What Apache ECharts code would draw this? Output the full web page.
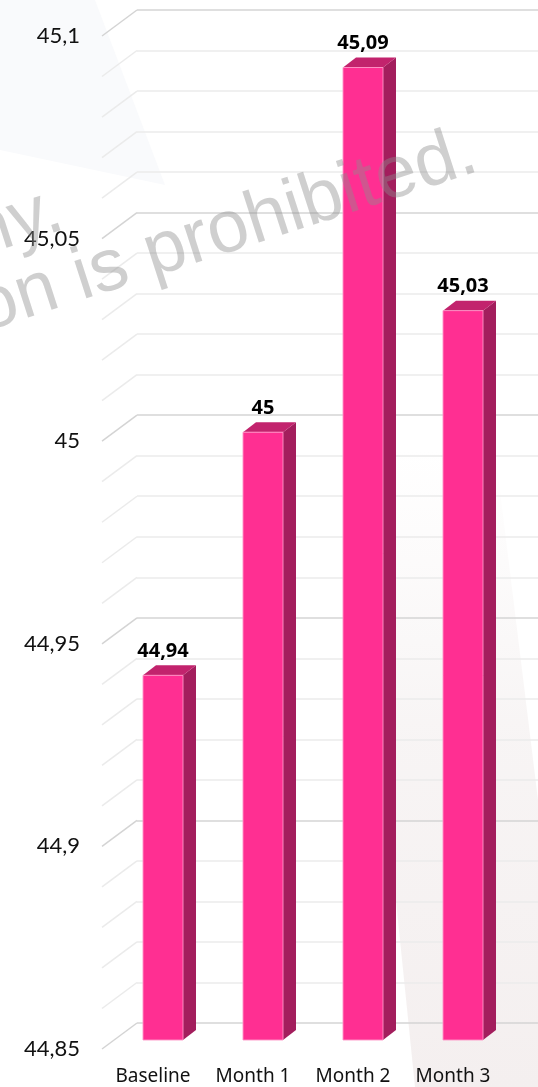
<!DOCTYPE html>
<html>
<head>
<meta charset="utf-8">
<script src="https://cdn.jsdelivr.net/npm/echarts@6/dist/echarts.min.js"></script>
<style>
html,body{margin:0;padding:0;background:#fff;}
#c{width:538px;height:1087px;}
</style>
</head>
<body>
<div id="c"></div>
<script>
// ---- data ----
const categories = ['Baseline', 'Month 1', 'Month 2', 'Month 3'];
const values = [44.94, 45, 45.09, 45.03];
const valueLabels = ['44,94', '45', '45,09', '45,03'];
const yTickLabels = ['44,85', '44,9', '44,95', '45', '45,05', '45,1'];
const gridTicks = [44.85, 44.86, 44.87, 44.88, 44.89, 44.90, 44.91, 44.92, 44.93, 44.94,
                   44.95, 44.96, 44.97, 44.98, 44.99, 45.00, 45.01, 45.02, 45.03, 45.04,
                   45.05, 45.06, 45.07, 45.08, 45.09, 45.10];
const yMin = 44.85, yMax = 45.1, minorStep = 0.01, majorStep = 0.05;

// ---- style ----
const FRONT = '#FF2F92', SIDE = '#A31E5D', TOP = '#C2236D';
const MAJOR = '#d4d4d4', MINOR = '#ebebeb';
const DEPTH_X = 13, DEPTH_Y = 10;     // bar depth
const WALL_X = 35, WALL_Y = 26;       // side wall perspective

const chart = echarts.init(document.getElementById('c'), null, {renderer: 'canvas'});

function isMajor(v) {
  return Math.round(v * 100) % 5 === 0;
}

const option = {
  animation: false,
  backgroundColor: '#ffffff',
  grid: [
    {left: 137, right: 0, top: 10, bottom: 64},      // back wall
    {left: 102, right: 0, top: 36, bottom: 38},      // front label axis
    {left: 113, right: 25, top: 27, bottom: 47},     // bars
    {left: 103, right: 35, top: 0, bottom: 30}       // category labels
  ],
  xAxis: [
    {gridIndex: 0, type: 'value', min: 0, max: 1, show: false},
    {gridIndex: 1, type: 'value', min: 0, max: 1, show: false},
    {gridIndex: 2, type: 'category', data: categories, show: false},
    {gridIndex: 3, type: 'category', data: categories, position: 'bottom',
     axisLine: {show: false}, axisTick: {show: false},
     axisLabel: {margin: 10, color: '#111', fontFamily: 'Noto Sans', fontSize: 19, interval: 0}}
  ],
  yAxis: [
    {gridIndex: 0, type: 'value', min: yMin, max: yMax, interval: minorStep,
     axisLine: {show: false}, axisTick: {show: false}, axisLabel: {show: false},
     splitLine: {show: true, lineStyle: {color: [MAJOR, MINOR, MINOR, MINOR, MINOR], width: 1.5}}},
    {gridIndex: 1, type: 'value', min: yMin, max: yMax, interval: majorStep,
     axisLine: {show: false}, axisTick: {show: false}, splitLine: {show: false},
     axisLabel: {margin: 22, color: '#111', fontFamily: 'Lato', fontSize: 22,
       formatter: (v, i) => yTickLabels[i]}},
    {gridIndex: 2, type: 'value', min: yMin, max: yMax, show: false},
    {gridIndex: 3, type: 'value', min: 0, max: 1, show: false}
  ],
  graphic: [
    // faint background shapes
    {type: 'polygon', z: -10, shape: {points: [[0, 0], [95, 0], [165, 185], [0, 150]]},
     style: {fill: '#f9fafc'}},
    {type: 'polygon', z: -10,
     shape: {points: [[350, 450], [495, 450], [538, 800], [538, 1087], [415, 1087]]},
     style: {fill: new echarts.graphic.LinearGradient(0, 0, 0, 1, [
       {offset: 0, color: 'rgba(245,241,241,0)'},
       {offset: 0.45, color: 'rgba(245,241,241,0.75)'},
       {offset: 1, color: 'rgba(244,239,239,1)'}])}},
    // watermark
    {type: 'text', z: 100, x: 486, y: 186, rotation: 18 * Math.PI / 180,
     style: {text: 'on is prohibited.', fontFamily: 'Liberation Sans', fontSize: 74,
       fill: 'rgba(140,140,140,0.42)', align: 'right', verticalAlign: 'bottom'}},
    {type: 'text', z: 100, x: 72, y: 244, rotation: 18 * Math.PI / 180,
     style: {text: 'ny.', fontFamily: 'Liberation Sans', fontSize: 74,
       fill: 'rgba(140,140,140,0.42)', align: 'right', verticalAlign: 'bottom'}}
  ],
  series: [
    {
      type: 'custom', xAxisIndex: 0, yAxisIndex: 0, z: 1,
      data: gridTicks.map(v => [0, v]),
      renderItem: function (params, api) {
        const v = api.value(1);
        const p = api.coord([0, v]);
        return {type: 'line',
          shape: {x1: p[0] - WALL_X, y1: p[1] + WALL_Y, x2: p[0], y2: p[1]},
          style: {stroke: isMajor(v) ? MAJOR : MINOR, lineWidth: 1.5}};
      }
    },
    {
      type: 'custom', xAxisIndex: 2, yAxisIndex: 2, z: 3,
      data: values.map((v, i) => [i, v]),
      renderItem: function (params, api) {
        const i = api.value(0), v = api.value(1);
        const top = api.coord([i, v]);
        const bot = api.coord([i, yMin]);
        const w = api.size([1, 0])[0] * 0.4;
        const x0 = top[0] - w / 2, x1 = top[0] + w / 2;
        const yT = top[1], yB = bot[1];
        return {type: 'group', children: [
          {type: 'polygon', shape: {points: [[x1, yT], [x1 + DEPTH_X, yT - DEPTH_Y], [x1 + DEPTH_X, yB - DEPTH_Y], [x1, yB]]},
           style: {fill: SIDE}},
          {type: 'polygon', shape: {points: [[x0, yT], [x0 + DEPTH_X, yT - DEPTH_Y], [x1 + DEPTH_X, yT - DEPTH_Y], [x1, yT]]},
           style: {fill: TOP}},
          {type: 'rect', shape: {x: x0, y: yT, width: w, height: yB - yT},
           style: {fill: FRONT, stroke: 'rgba(255,150,200,0.9)', lineWidth: 1}},
          {type: 'text', style: {text: valueLabels[i], x: top[0], y: yT - 24,
            align: 'center', verticalAlign: 'middle', fill: '#000',
            fontFamily: 'Open Sans', fontWeight: 'bold', fontSize: 20}}
        ]};
      }
    }
  ]
};
chart.setOption(option);
</script>
</body>
</html>
